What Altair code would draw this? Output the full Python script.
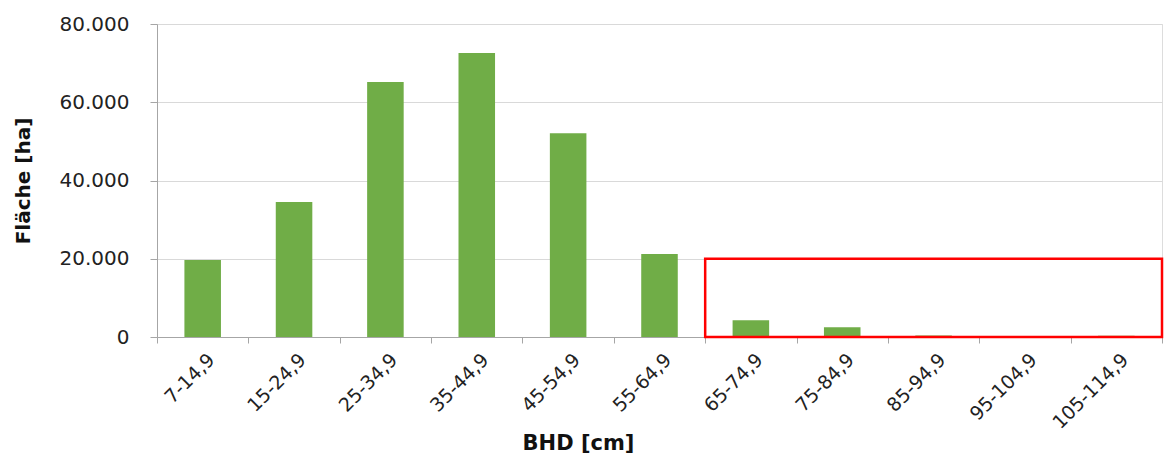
import altair as alt
import pandas as pd

categories = ["7-14,9", "15-24,9", "25-34,9", "35-44,9", "45-54,9", "55-64,9",
              "65-74,9", "75-84,9", "85-94,9", "95-104,9", "105-114,9"]
flaeche = [19700, 34500, 65200, 72600, 52100, 21200, 4300, 2500, 400, 100, 300]

highlight_from = ["65-74,9"]
highlight_top = [20000]

W = 1005
H = 313
FONT = "DejaVu Sans"

df = pd.DataFrame({"BHD": categories, "Fläche": flaeche})
box = pd.DataFrame({"BHD": highlight_from, "top": highlight_top, "bottom": [0]})

xscale = alt.Scale(domain=categories, paddingInner=0, paddingOuter=0)
yscale = alt.Scale(domain=[0, 80000], nice=False)

bars = alt.Chart(df).mark_bar(color="#70AD47", width={"band": 0.4}).encode(
    x=alt.X("BHD:N", sort=categories, scale=xscale,
            axis=alt.Axis(title="BHD [cm]", labelAngle=-45, tickBand="extent",
                          labelFontSize=19, labelFont=FONT, labelColor="#222222",
                          titleFont=FONT, titleFontSize=21, titleFontWeight="bold",
                          titleColor="#111111", domainColor="#A6A6A6", tickColor="#A6A6A6",
                          tickSize=6, labelPadding=7, labelOffset=2, titlePadding=0,
                          titleX=421)),
    y=alt.Y("Fläche:Q", scale=yscale,
            axis=alt.Axis(title="Fläche [ha]", values=list(range(0, 80001, 10000)),
                          labelExpr="datum.value % 20000 === 0 ? replace(format(datum.value, ','), ',', '.') : ''",
                          gridOpacity={"condition": {"test": "datum.value % 20000 === 0", "value": 1}, "value": 0},
                          gridColor="#D9D9D9", domainColor="#A6A6A6", tickColor="#A6A6A6",
                          tickSize=7, labelPadding=21, labelFontSize=20, labelFont=FONT,
                          labelColor="#222222", titleFont=FONT, titleFontSize=20,
                          titleFontWeight="bold", titleColor="#111111", titlePadding=26)),
)

rect = alt.Chart(box).mark_rect(fill=None, stroke="#FF0000", strokeWidth=2.5).encode(
    x=alt.X("BHD:N", sort=categories, scale=xscale, bandPosition=0),
    x2=alt.value(W),
    y=alt.Y("top:Q", scale=yscale),
    y2="bottom:Q",
)

chart = alt.layer(bars, rect).properties(
    width=W, height=H,
    padding={"left": 5, "top": 6, "right": 0, "bottom": 0},
).configure_view(stroke=None).configure(background="white")

chart.save("out.html", embed_options={"renderer": "svg", "actions": False})
